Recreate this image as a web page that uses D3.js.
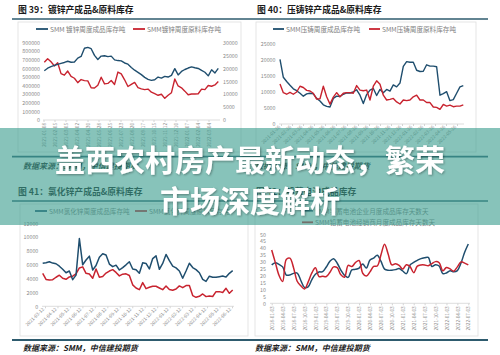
<!DOCTYPE html>
<html><head><meta charset="utf-8">
<script src="https://cdn.jsdelivr.net/npm/d3@7"></script>
<style>html,body{margin:0;padding:0;background:#fff;}svg{display:block;}</style>
</head><body>
<svg id="c" width="500" height="355"></svg>
<script>
// ---------- data ----------
const titles = ["图 39：镀锌产成品&原料库存", "图 40：压铸锌产成品&原料库存", "图 41：氯化锌产成品&原料库存", "图 42：铅蓄电池成品库存"];
const sourceText = "数据来源：SMM，中信建投期货";
const bannerLines = ["盖西农村房产最新动态，繁荣", "市场深度解析"];

const p1Series = ["SMM 镀锌周度成品库存吨", "SMM镀锌周度原料库存吨"];
const p1Labels = ["2021-01-08","2021-02-05","2021-03-05","2021-04-02","2021-04-30","2021-05-28","2021-06-25","2021-07-23","2021-08-20","2021-09-17","2021-10-15","2021-11-12","2021-12-10","2022-01-07","2022-02-04","2022-03-04"];
const p1LeftTicks = [0,100000,200000,300000,400000,500000,600000,700000,800000,900000];
const p1RightTicks = [0,5000,10000,15000,20000,25000,30000];
const p1Finished = [574000,603000,622000,636000,648000,660000,670000,684000,672000,676000,720000,740000,835000,845000,830000,752000,705000,744000,748000,738000,744000,700000,692000,688000,664000,650000,612000,580000,555000,528000,496000,473000,462000,468000,500000,488000,508000,500000,520000,598000,525000,565000,588000,605000,618000,608000,600000,578000,556000,514000,585000,548000,602000];
const p1Raw = [22400,23800,22600,21000,22200,18000,17400,19000,16900,16200,14500,15700,15300,15200,12500,12400,13500,16600,14000,14200,15300,13800,18600,17900,15600,13000,13800,14600,12600,12100,11800,12000,10800,10200,9600,10000,8400,9600,10600,15900,13200,12500,11200,9800,10100,10100,10200,12000,11800,13400,13100,13600,14900];

const p2Series = ["SMM压铸周度成品库存吨", "SMM压铸周度原料库存吨"];
const p2Labels = ["2021-01-26","2021-02-26","2021-03-26","2021-04-26","2021-05-26","2021-06-26","2021-07-26","2021-08-26","2021-09-26","2021-10-26","2021-11-26","2021-12-26","2022-01-26","2022-02-26","2022-03-26","2022-04-26","2022-05-26"];
const p2Ticks = [0,5000,10000,15000,20000,25000];
const p2Finished = [20200,14600,13300,12100,11000,10400,9600,8700,9400,9600,9400,8000,7200,6000,5500,5300,8000,8700,8600,9300,9700,9700,10000,10700,9000,6400,9200,10600,11100,8900,10800,9800,10800,10300,12200,11600,12800,18000,19500,19300,19300,16800,16400,16500,18500,18100,18100,17900,9000,9500,10100,7300,7600,9600,11600,12000];
const p2Raw = [12500,9800,9300,9900,9300,10000,11800,11400,10500,10300,9600,7800,7900,11800,8500,6200,8400,9800,8500,9600,9800,9800,9600,12000,10600,10400,10600,7500,11800,13500,12400,9000,7500,7700,8000,6900,6250,7500,7300,7500,8500,9000,7500,7500,6700,6700,5300,5200,4600,6100,5600,5900,5400,5600,5600,6000];

const p3Series = ["SMM氯化锌周度成品库存吨", "SMM氯化锌周度原料库存吨"];
const p3Labels = ["2021-03-12","2021-04-12","2021-05-12","2021-06-12","2021-07-12","2021-08-12","2021-09-12","2021-10-12","2021-11-12","2021-12-12","2022-01-12","2022-02-12","2022-03-12","2022-04-12","2022-05-12","2022-06-12"];
const p3Ticks = [0,2000,4000,6000,8000,10000,12000];
const p3Finished = [6220,6300,6450,6250,6150,5800,5350,4850,5100,3850,4500,9800,6000,6700,7250,5250,5900,7100,7600,7420,6100,5730,5950,5250,5600,6000,6450,5400,5300,4770,6300,6200,5400,6900,7300,5350,6200,7500,6600,5800,5550,5100,4050,5100,6220,5600,5300,4850,3900,3600,4350,4200,4190,4280,4380,4220,4770,5160];
const p3Raw = [4770,3880,3810,3850,4200,4500,4050,3900,4250,4350,4700,5550,5700,4770,4670,4050,5400,4200,4300,4800,5100,5300,4900,4400,4650,4700,4450,3100,2650,2400,3420,2550,2750,2900,2900,2650,2400,2940,2420,2330,2500,2950,2700,3000,3000,1550,1300,1450,1780,1400,1490,1420,2120,2120,2000,2600,1880,2360];

const p4Series = ["SMM铅蓄电池企业月度成品库存天数天", "SMM铅蓄电池经销商月度成品库存天数天"];
const p4Labels = ["2018-01-03","2018-04-03","2018-07-03","2018-10-03","2019-01-03","2019-04-03","2019-07-03","2019-10-03","2020-01-03","2020-04-03","2020-07-03","2020-10-03","2021-01-03","2021-04-03","2021-07-03","2021-10-03","2022-01-03","2022-04-03","2022-07-03"];
const p4Ticks = [0,5,10,15,20,25,30,35,40,45,50];
const p4Enterprise = [27.8,29.4,28.2,26.4,20.5,20.5,21.7,21.9,16.5,11.5,11.9,17.0,21.0,22.7,22.9,26.3,30.5,32.3,29.0,24.0,20.2,18.8,24.3,24.6,25.5,28.5,25.6,31.4,32.8,34.8,30.5,24.8,23.9,24.0,24.4,25.2,23.4,21.5,27.8,29.6,31.1,32.4,33.0,33.3,26.7,28.0,27.0,21.5,22.0,23.6,22.9,23.7,29.2,37.0,43.0];
const p4Dealer = [38.6,29.5,20.3,15.8,31.8,32.7,25.8,16.0,12.7,10.4,15.3,21.8,25.8,19.4,19.6,19.4,22.5,26.4,25.8,20.6,18.9,27.5,26.6,29.5,31.0,21.8,19.7,22.8,26.7,27.0,35.0,42.8,35.5,27.8,28.6,27.5,24.8,28.0,26.6,22.2,26.9,27.8,27.8,27.2,28.8,30.2,29.4,23.5,26.0,24.9,23.3,26.4,30.0,29.1,27.8];

// ---------- styles ----------
const FONT = "'Noto Sans CJK SC','Noto Sans',sans-serif";
const BLUE = "#1f4e6e", RED = "#c8232f", AXIS = "#d4d4d4", TICK = "#8a8a8a", LEG = "#808080", RULE = "#2e5b6e";
const svg = d3.select("#c");
svg.append("rect").attr("width",500).attr("height",355).attr("fill","#fff");

// headers, rules, sources
function header(x, y, t) {
  svg.append("text").attr("x",x).attr("y",y).attr("dominant-baseline","central")
    .attr("font-family",FONT).attr("font-weight","bold").attr("font-size",8.8).attr("fill","#1a1a1a").text(t);
}
function rule(y, w) {
  svg.append("line").attr("x1",12).attr("x2",488).attr("y1",y).attr("y2",y).attr("stroke",RULE).attr("stroke-width",w);
}
function source(x, y) {
  svg.append("text").attr("x",x).attr("y",y).attr("dominant-baseline","central")
    .attr("font-family",FONT).attr("font-weight","bold").attr("font-style","italic").attr("font-size",8).attr("fill","#222").text(sourceText);
}
header(18, 9, titles[0]); header(257, 9, titles[1]);
header(18, 191, titles[2]); header(256, 191, titles[3]);
rule(19, 1.6); rule(201, 1.6); rule(156.7, 1.8); rule(340, 1.8);
source(23, 165); source(255, 165); source(23, 347); source(255, 347);

// boxes
[[18,22,241,152],[256,22,476,152],[20,204,248,336],[255,204,478,336]].forEach(b=>{
  svg.append("rect").attr("x",b[0]).attr("y",b[1]).attr("width",b[2]-b[0]).attr("height",b[3]-b[1])
    .attr("fill","none").attr("stroke","#dedede").attr("stroke-width",0.8);
});

function legendItem(x1, x2, y, color, label) {
  svg.append("line").attr("x1",x1).attr("x2",x2).attr("y1",y).attr("y2",y).attr("stroke",color).attr("stroke-width",1.8);
  svg.append("text").attr("x",x2+2).attr("y",y).attr("dominant-baseline","central")
    .attr("font-family",FONT).attr("font-size",6.6).attr("fill",LEG).text(label);
}
function yAxis(scale, ticks, x, left) {
  const ax = (left ? d3.axisLeft(scale) : d3.axisRight(scale)).tickValues(ticks).tickSize(0).tickPadding(0).tickFormat(d3.format("d"));
  const g = svg.append("g").attr("transform",`translate(${x},0)`).call(ax);
  g.select(".domain").remove();
  g.attr("font-family",FONT).attr("font-size",5.3);
  g.selectAll("text").attr("fill",TICK);
}
function xAxis(labels, r, y, angle, plotRange) {
  svg.append("line").attr("x1",plotRange[0]).attr("x2",plotRange[1]).attr("y1",y).attr("y2",y).attr("stroke",AXIS).attr("stroke-width",0.8);
  const pt = d3.scalePoint().domain(labels).range(r);
  const g = svg.append("g").attr("transform",`translate(0,${y})`).call(d3.axisBottom(pt).tickSize(2).tickPadding(1));
  g.select(".domain").remove();
  g.attr("font-family",FONT).attr("font-size",4.7);
  g.selectAll("line").attr("stroke",AXIS);
  g.selectAll("text").attr("fill",TICK).attr("transform",`rotate(${angle})`)
    .attr("text-anchor","end").attr("x",-3).attr("y",0).attr("dy","0.35em");
}
function series(data, x, y, color, curve, w) {
  const line = d3.line().x((d,i)=>x(i)).y(d=>y(d)).curve(curve || d3.curveLinear);
  svg.append("path").datum(data).attr("d",line).attr("fill","none").attr("stroke",color)
    .attr("stroke-width",w||1.4).attr("stroke-linejoin","round");
}

// ---------- panel 1 ----------
{
  const x = d3.scaleLinear().domain([0,p1Finished.length-1]).range([44.3,218.3]);
  const yL = d3.scaleLinear().domain([0,900000]).range([120,42.7]);
  const yR = d3.scaleLinear().domain([0,30000]).range([120,42.7]);
  legendItem(36,48,29,BLUE,p1Series[0]); legendItem(133,145,29,RED,p1Series[1]);
  yAxis(yL,p1LeftTicks,40,true); yAxis(yR,p1RightTicks,223,false);
  xAxis(p1Labels,[43.5,208.5],120,-90,[43,220]);
  series(p1Raw,x,yR,RED); series(p1Finished,x,yL,BLUE);
}
// ---------- panel 2 ----------
{
  const x = d3.scaleLinear().domain([0,p2Finished.length-1]).range([280,463.3]);
  const y = d3.scaleLinear().domain([0,25000]).range([124,44]);
  legendItem(273,284,29,BLUE,p2Series[0]); legendItem(369,380,29,RED,p2Series[1]);
  yAxis(y,p2Ticks,275.5,true);
  xAxis(p2Labels,[281,457],124,-45,[279,464]);
  series(p2Finished,x,y,BLUE); series(p2Raw,x,y,RED);
}
// ---------- panel 3 ----------
{
  const x = d3.scaleLinear().domain([0,p3Finished.length-1]).range([42.7,232.7]);
  const y = d3.scaleLinear().domain([0,12000]).range([306.3,223.3]);
  legendItem(35,47,211,BLUE,p3Series[0]); legendItem(135,147,211,RED,p3Series[1]);
  yAxis(y,p3Ticks,38.3,true);
  xAxis(p3Labels,[45,232],306.3,-45,[42,234]);
  series(p3Raw,x,y,RED,null,1.5); series(p3Finished,x,y,BLUE,null,1.5);
}
// ---------- panel 4 ----------
{
  const x = d3.scaleLinear().domain([0,p4Enterprise.length-1]).range([271.7,468.3]);
  const y = d3.scaleLinear().domain([0,50]).range([303.3,234.3]);
  legendItem(302,313,210.7,BLUE,p4Series[0]); legendItem(302,313,222.3,RED,p4Series[1]);
  yAxis(y,p4Ticks,266,true);
  xAxis(p4Labels,[271.7,468.3],303.3,-90,[270,470]);
  series(p4Enterprise,x,y,BLUE,d3.curveCatmullRom,1.5); series(p4Dealer,x,y,RED,d3.curveCatmullRom,1.5);
}

// ---------- banner ----------
const defs = svg.append("defs");
const f = defs.append("filter").attr("id","sh").attr("x","-10%").attr("y","-30%").attr("width","120%").attr("height","160%");
f.append("feDropShadow").attr("dx",1).attr("dy",1).attr("stdDeviation",1).attr("flood-color","#000").attr("flood-opacity",0.35);
svg.append("rect").attr("x",0).attr("y",128).attr("width",500).attr("height",97).attr("fill","#3d9e90").attr("opacity",0.62);
svg.selectAll("text.banner").data(bannerLines).join("text").attr("class","banner")
  .attr("x",250).attr("y",(d,i)=>157.5+i*41).attr("text-anchor","middle").attr("dominant-baseline","central")
  .attr("font-family",FONT).attr("font-weight","bold").attr("font-size",30).attr("fill","#fff")
  .attr("filter","url(#sh)").text(d=>d);
</script>
</body></html>
